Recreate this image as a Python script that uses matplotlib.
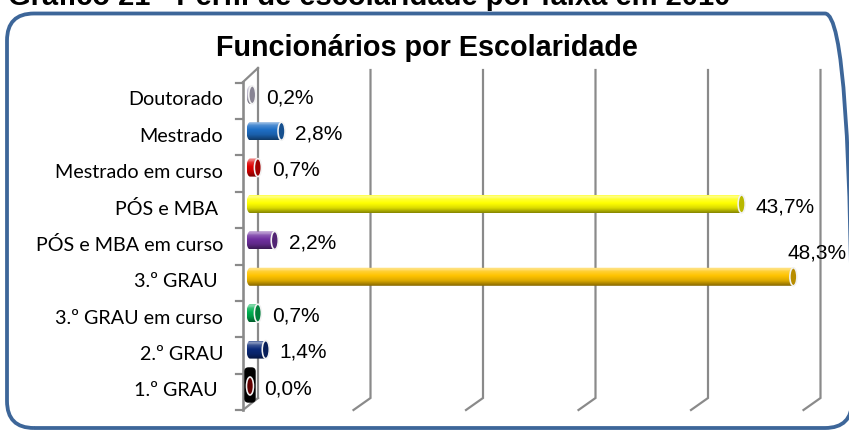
import numpy as np
import matplotlib
matplotlib.use("Agg")
import matplotlib.pyplot as plt
import matplotlib.transforms as mtransforms
from matplotlib.patches import FancyBboxPatch, Ellipse, Polygon
from matplotlib.colors import to_rgb

# ---------------- data ----------------
categories = ["Doutorado", "Mestrado", "Mestrado em curso", "PÓS e MBA ",
              "PÓS e MBA em curso", "3.º GRAU ", "3.º GRAU em curso",
              "2.º GRAU", "1.º GRAU "]
values = [0.2, 2.8, 0.7, 43.7, 2.2, 48.3, 0.7, 1.4, 0.0]
value_labels = ["0,2%", "2,8%", "0,7%", "43,7%", "2,2%", "48,3%",
                "0,7%", "1,4%", "0,0%"]
grid_values = [10, 20, 30, 40, 50]
chart_title = "Funcionários por Escolaridade"
page_title = "Gráfico 21 - Perfil de escolaridade por faixa em 2010"

# ---------------- styles ----------------
bar_colors = ["#bdb8cc", "#1f6fc6", "#e00000", "#ffff00", "#7030a0",
              "#ffc400", "#00b050", "#0b2a7a", "#8a0000"]
# label offsets in points (dx, dy)
label_offsets = [(10, -2), (10, -2), (10, -2), (10, -2), (10, -2),
                 (-4.5, 17), (10, -2), (10, -2), (10, -2)]

W, H, DPI = 849, 430, 100
fig = plt.figure(figsize=(W / DPI, H / DPI), dpi=DPI)

# axis geometry (pixels)
X0_PX, SX = 250.0, 11.25       # x pixel of value 0 and pixels per unit
Y0_PX, SY = 386.0, 36.4        # y pixel of bottom category and pixels per unit
XMIN, XMAX, YMIN, YMAX = -1.5, 52, -1, 9

left_px = X0_PX + XMIN * SX
right_px = X0_PX + XMAX * SX
top_px = Y0_PX - YMAX * SY
bot_px = Y0_PX - YMIN * SY
ax = fig.add_axes([left_px / W, 1 - bot_px / H, (right_px - left_px) / W,
                   (bot_px - top_px) / H])
ax.set_xlim(XMIN, XMAX)
ax.set_ylim(YMIN, YMAX)
ax.set_axis_off()


def px2x(px):
    return (px - X0_PX) / SX


def px2y(py):
    return (Y0_PX - py) / SY


GRID_C = "#8a8a8a"
lw_px = 72.0 / DPI

# gridlines (3D back-wall style)
back_dx = 8 / SX
front_dx = -9 / SX
for v in grid_values:
    ax.plot([v + back_dx, v + back_dx, v + front_dx],
            [px2y(70), px2y(398), px2y(410)],
            color=GRID_C, lw=2.2 * lw_px, solid_joinstyle="miter", zorder=1)

# left wall
ax.plot([px2x(243), px2x(243)], [px2y(82), px2y(410)], color=GRID_C,
        lw=2.6 * lw_px, zorder=1, clip_on=False)
ax.plot([px2x(258), px2x(258)], [px2y(68), px2y(398)], color=GRID_C,
        lw=2.2 * lw_px, zorder=1, clip_on=False)
ax.plot([px2x(243), px2x(258)], [px2y(82), px2y(68)], color=GRID_C,
        lw=2.2 * lw_px, zorder=1, clip_on=False)
ax.plot([px2x(243), px2x(258)], [px2y(410), px2y(398)], color=GRID_C,
        lw=2.2 * lw_px, zorder=1, clip_on=False)
n = len(categories)
for k in range(-1, n):
    yt = k + 0.5 - 6 / SY
    ax.plot([px2x(236), px2x(243)], [yt, yt], color=GRID_C,
            lw=2.2 * lw_px, zorder=1, clip_on=False)

# cylinders
h = 18 / SY
cw = 7 / SX


def shade_column(color, nrows=60):
    base = np.array(to_rgb(color))
    white = np.ones(3)
    t = np.linspace(0, 1, nrows)
    key_t = [0.0, 0.08, 0.22, 0.45, 0.72, 1.0]
    key_c = [base * 0.75 + white * 0.25,
             base * 0.45 + white * 0.55,
             base * 0.8 + white * 0.2,
             base,
             base * 0.86,
             base * 0.52]
    key_c = np.array(key_c)
    col = np.stack([np.interp(t, key_t, key_c[:, j]) for j in range(3)], axis=1)
    return np.clip(col[:, None, :], 0, 1)


for i, (cat, v, c) in enumerate(zip(categories, values, bar_colors)):
    y = n - 1 - i
    if v == 0:
        ax.add_patch(FancyBboxPatch((px2x(245), px2y(402)),
                                    px2x(255) - px2x(245), px2y(368) - px2y(402),
                                    boxstyle="round,pad=0,rounding_size=0.3",
                                    mutation_aspect=SX / SY,
                                    facecolor="black", edgecolor="black",
                                    zorder=3))
    else:
        img = shade_column(c)
        im = ax.imshow(img, extent=[-cw / 2, v, y - h / 2, y + h / 2],
                       aspect="auto", origin="upper", interpolation="bilinear",
                       zorder=3)
        th = np.linspace(np.pi / 2, 3 * np.pi / 2, 30)
        pts = np.column_stack([cw / 2 * np.cos(th), y + h / 2 * np.sin(th)])
        pts = np.vstack([pts, [[v, y - h / 2], [v, y + h / 2]]])
        clip = Polygon(pts, closed=True, transform=ax.transData)
        im.set_clip_path(clip)
    base = np.array(to_rgb(c))
    ax.add_patch(Ellipse((v, y), cw, h, facecolor=base * 0.72,
                         edgecolor="#f2f2f2", lw=1.6 * lw_px, zorder=4))
    dx, dy = label_offsets[i]
    ax.annotate(value_labels[i], xy=(v, y), xytext=(dx, dy),
                textcoords="offset points", ha="left", va="center",
                fontsize=15, family="Liberation Sans", color="black",
                zorder=5, annotation_clip=False)
    ax.text(px2x(223), y - 5 / SY, cat, ha="right", va="center",
            fontsize=14.2, family="Lato", color="black", clip_on=False)

# titles
fig.text(427 / W, 1 - 56.5 / H, chart_title, ha="center", va="baseline",
         fontsize=20.7, fontweight="bold", family="Liberation Sans")
fig.text(8 / W, 1 - 5 / H, page_title, ha="left", va="baseline",
         fontsize=21, fontweight="bold", family="Liberation Sans")

# rounded frame
frame = FancyBboxPatch((7, H - 428), 852 - 7, 428 - 13.5,
                       boxstyle="round,pad=0,rounding_size=27",
                       transform=mtransforms.IdentityTransform(),
                       facecolor="none", edgecolor="#3d6699",
                       lw=3.8 * lw_px, clip_on=False)
fig.add_artist(frame)

fig.savefig("out.png", dpi=DPI)
